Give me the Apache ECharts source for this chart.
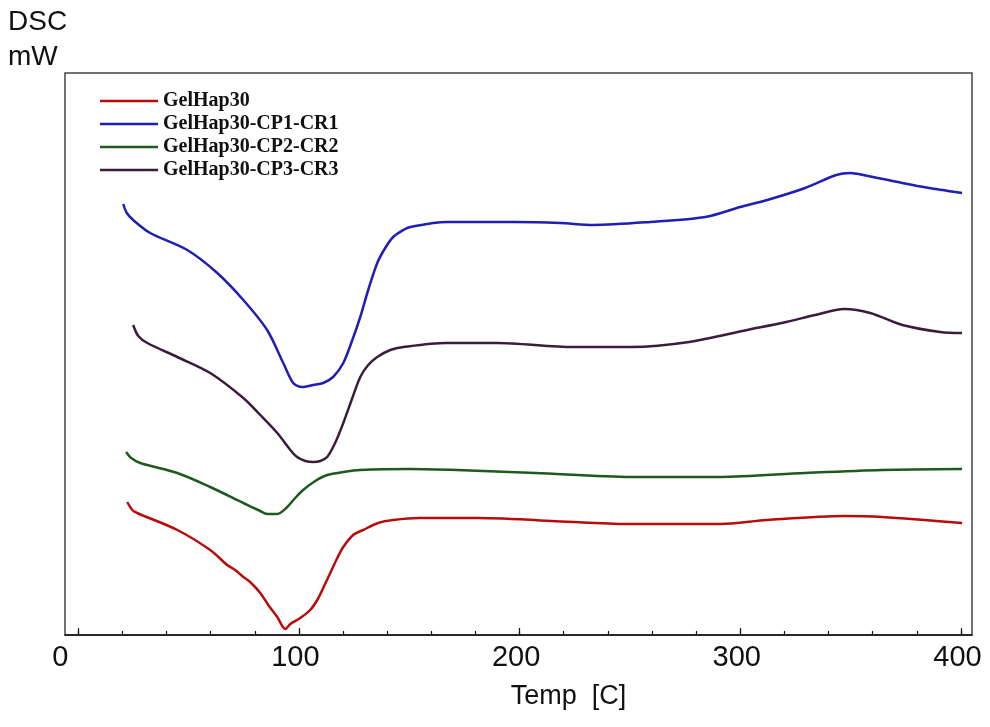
<!DOCTYPE html>
<html>
<head>
<meta charset="utf-8">
<script src="https://cdn.jsdelivr.net/npm/echarts@6/dist/echarts.min.js"></script>
<style>html,body{margin:0;padding:0;background:#fff}#c{width:990px;height:727px}</style>
</head>
<body>
<div id="c"></div>
<script>
// Series names
var seriesNames = ['GelHap30', 'GelHap30-CP1-CR1', 'GelHap30-CP2-CR2', 'GelHap30-CP3-CR3'];
// X tick values and labels
var minorTicks = [0,20,40,60,80,100,120,140,160,180,200,220,240,260,280,300,320,340,360,380,400];
var majorTicks = [0,100,200,300,400];

// [Temp (C), DSC (arbitrary mW units)]
var gelHap30 = [
  [22.2,13.3],[24.5,12.5],[26.7,12.2],[44.9,10.5],[59.8,8.5],[67.5,7.0],[71.1,6.5],[74.8,5.8],
  [77.9,5.3],[82.5,4.2],[86.1,3.0],[90.2,1.8],[93.8,0.6],[96.1,1.1],[100.6,1.7],[105.1,2.5],
  [108.3,3.5],[111.0,4.7],[114.2,6.2],[117.4,7.7],[120.1,8.8],[124.6,10.0],[129.1,10.5],
  [135.9,11.2],[142.7,11.5],[154.5,11.7],[180.8,11.7],[224.3,11.3],[250.6,11.1],[290.9,11.1],
  [312.2,11.5],[347.1,11.9],[364.3,11.8],[400.5,11.2]
];
var cp1cr1 = [
  [20.4,43.1],[22.0,42.2],[24.9,41.5],[32.6,40.2],[49.4,38.5],[63.0,36.2],[74.8,33.5],[85.6,30.5],
  [92.9,27.2],[97.4,25.2],[101.5,24.8],[106.5,25.0],[111.0,25.2],[115.5,25.8],[120.1,27.2],
  [124.2,29.5],[127.8,31.8],[131.4,34.5],[135.5,37.2],[139.1,38.7],[142.7,39.8],[147.3,40.5],
  [150.4,40.8],[166.7,41.3],[198.0,41.3],[218.4,41.2],[233.3,41.0],[259.2,41.3],[284.1,41.8],
  [300.0,42.8],[312.2,43.5],[329.4,44.7],[343.5,46.0],[349.8,46.2],[355.7,46.0],[373.4,45.2],
  [385.6,44.7],[400.5,44.2]
];
var cp2cr2 = [
  [21.7,18.3],[24.0,17.7],[28.1,17.2],[44.9,16.2],[59.8,14.8],[74.8,13.2],[82.5,12.4],[85.6,12.1],
  [90.2,12.1],[94.7,12.8],[98.3,13.7],[101.9,14.5],[107.4,15.4],[112.8,16.0],[120.1,16.3],
  [127.8,16.5],[150.4,16.6],[171.7,16.5],[207.1,16.2],[250.6,15.8],[290.9,15.8],[329.4,16.2],
  [364.3,16.5],[400.5,16.6]
];
var cp3cr3 = [
  [24.9,31.0],[27.2,29.9],[31.3,29.2],[44.9,27.8],[59.8,26.2],[74.8,23.7],[82.5,22.0],[90.2,20.2],
  [96.1,18.5],[99.2,17.8],[102.9,17.4],[106.5,17.3],[109.7,17.4],[112.8,17.8],[116.4,19.2],
  [120.1,21.2],[124.2,23.7],[127.8,25.8],[131.4,27.0],[135.5,27.8],[141.4,28.5],[147.3,28.8],
  [166.7,29.2],[189.4,29.2],[224.3,28.8],[250.6,28.8],[276.8,29.3],[303.1,30.5],[320.8,31.3],
  [333.9,32.0],[347.1,32.6],[358.9,32.2],[373.4,31.0],[390.6,30.3],[400.5,30.2]
];

var seriesData = [gelHap30, cp1cr1, cp2cr2, cp3cr3];
var colors = ['#b80c0c', '#1f1fb5', '#1e5a1e', '#3b1c3b'];

var chart = echarts.init(document.getElementById('c'), null, {renderer: 'canvas'});
var option = {
  backgroundColor: '#ffffff',
  animation: false,
  title: {
    text: 'DSC\nmW',
    left: 3, top: 0,
    textStyle: {fontFamily: 'Liberation Sans', fontSize: 28, fontWeight: 'normal', color: '#111', lineHeight: 35}
  },
  legend: {
    orient: 'vertical',
    left: 95, top: 86,
    icon: 'rect',
    itemWidth: 58, itemHeight: 2.5,
    itemGap: 3,
    data: seriesNames,
    textStyle: {fontFamily: 'Liberation Serif', fontWeight: 'bold', fontSize: 20, lineHeight: 20, color: '#111'}
  },
  grid: {
    left: 65, right: 18, top: 73, bottom: 92,
    show: true, borderColor: '#444', borderWidth: 1.5, backgroundColor: 'transparent'
  },
  xAxis: [{
    type: 'value', min: -6, max: 405,
    axisLine: {show: true, lineStyle: {color: '#111', width: 1.5}},
    axisTick: {show: true, inside: true, length: 4, customValues: minorTicks, lineStyle: {color: '#111', width: 1.2}},
    axisLabel: {
      show: true, customValues: majorTicks, margin: 8, color: '#111',
      fontFamily: 'Liberation Sans', fontSize: 29,
      formatter: function (v) { return v === 0 ? '{z|0}' : '{n|' + v + '}'; },
      rich: {
        z: {fontFamily: 'Liberation Sans', fontSize: 29, color: '#111', padding: [0, 36, 0, 0]},
        n: {fontFamily: 'Liberation Sans', fontSize: 29, color: '#111', padding: [0, 7, 0, 0]}
      }
    },
    splitLine: {show: false},
    name: 'Temp  [C]', nameLocation: 'middle', nameGap: 48,
    nameTextStyle: {fontFamily: 'Liberation Sans', fontSize: 27, color: '#111', padding: [0, 0, 0, 100]}
  }, {
    type: 'value', min: -6, max: 405, position: 'bottom',
    axisLine: {show: false},
    axisTick: {show: true, inside: true, length: 7, customValues: majorTicks, lineStyle: {color: '#111', width: 1.2}},
    axisLabel: {show: false},
    splitLine: {show: false}
  }],
  yAxis: {
    type: 'value', min: 0, max: 56.2,
    axisLine: {show: false}, axisTick: {show: false}, axisLabel: {show: false}, splitLine: {show: false}
  },
  series: seriesNames.map(function (n, i) {
    return {
      name: n, type: 'line', xAxisIndex: 0,
      data: seriesData[i],
      showSymbol: false, smooth: 0.3,
      color: colors[i],
      lineStyle: {width: 2.5, color: colors[i]}
    };
  })
};
chart.setOption(option);
</script>
</body>
</html>
